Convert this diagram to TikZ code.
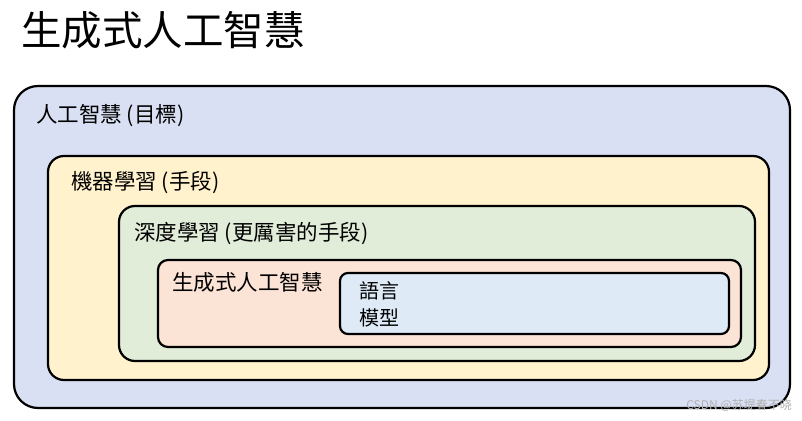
\documentclass[tikz,border=0pt]{standalone}
\usepackage{fontspec}
\setmainfont{Noto Sans CJK TC}
\begin{document}
\begin{tikzpicture}[x=1pt,y=-1pt,
  box/.style={draw=black,line width=2.2pt,rounded corners=16pt},
  lbl/.style={anchor=west,inner sep=0pt,font=\fontsize{21.5}{24}\selectfont}]
\useasboundingbox (0,0) rectangle (802,420);
\node[anchor=west,inner sep=0pt,font=\fontsize{40.5}{46}\selectfont] (title) at (21,30) {生成式人工智慧};
\draw[box,fill={rgb,255:red,218;green,224;blue,243},rounded corners=24pt] (14,86) rectangle (790,408);
\draw[box,fill={rgb,255:red,255;green,242;blue,204}] (48,156) rectangle (769,380);
\draw[box,fill={rgb,255:red,225;green,236;blue,217}] (119,206) rectangle (755,361);
\draw[box,fill={rgb,255:red,251;green,227;blue,214},rounded corners=10pt] (158,260) rectangle (741,347);
\draw[box,fill={rgb,255:red,222;green,235;blue,247},rounded corners=8pt] (340,273) rectangle (729,334);
\node[lbl] (l1) at (36,116) {人工智慧 (目標)};
\node[lbl] (l2) at (71,183) {機器學習 (手段)};
\node[lbl] (l3) at (134,233) {深度學習 (更厲害的手段)};
\node[lbl] (l4) at (172,282) {生成式人工智慧};
\node[lbl,font=\fontsize{20}{22}\selectfont] (l5) at (359,291) {語言};
\node[lbl,font=\fontsize{20}{22}\selectfont] (l6) at (359,318) {模型};
\node[anchor=east,inner sep=0pt,text=black!30,font=\fontsize{12}{14}\selectfont] (wm) at (792,405) {CSDN @苏堤春不晓};
\end{tikzpicture}
\end{document}
